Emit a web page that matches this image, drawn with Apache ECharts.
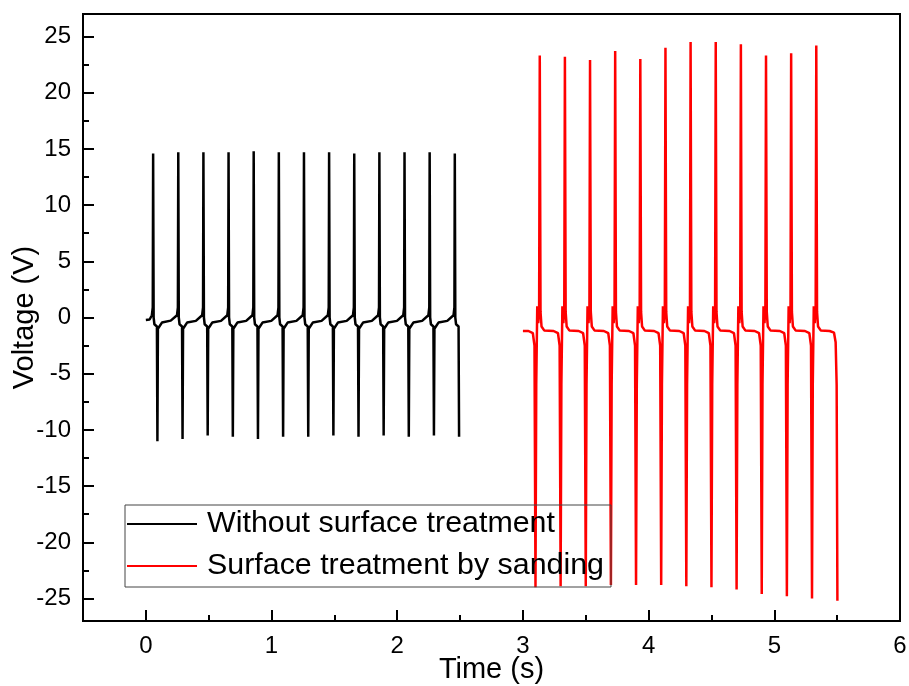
<!DOCTYPE html>
<html>
<head>
<meta charset="utf-8">
<script src="https://cdn.jsdelivr.net/npm/echarts@6.0.0/dist/echarts.min.js"></script>
<style>html,body{margin:0;padding:0;background:#fff;}#chart{width:909px;height:686px;}</style>
</head>
<body>
<div id="chart"></div>
<script>
const seriesNames = ['Without surface treatment', 'Surface treatment by sanding'];
const xMajorTicks = [0, 1, 2, 3, 4, 5, 6];
const xMinorTicks = [0.5, 1.5, 2.5, 3.5, 4.5, 5.5];
const yMajorTicks = [-25, -20, -15, -10, -5, 0, 5, 10, 15, 20, 25];
const yMinorTicks = [-22.5, -17.5, -12.5, -7.5, -2.5, 2.5, 7.5, 12.5, 17.5, 22.5];

// [time (s), voltage (V)]
const blackData = [
[0.000,-0.22],[0.030,-0.18],
[0.048,0.2],[0.055,0.9],[0.058,14.6],[0.062,0.0],[0.068,-0.6],[0.088,-0.8],[0.092,-11.0],[0.096,-1.0],[0.128,-0.45],[0.198,-0.28],
[0.248,0.2],[0.255,0.9],[0.258,14.7],[0.262,0.0],[0.268,-0.6],[0.288,-0.8],[0.292,-10.8],[0.296,-1.0],[0.328,-0.45],[0.398,-0.3],
[0.448,0.2],[0.455,0.9],[0.458,14.7],[0.462,0.0],[0.468,-0.6],[0.488,-0.8],[0.492,-10.5],[0.496,-1.0],[0.528,-0.45],[0.598,-0.3],
[0.648,0.2],[0.655,0.9],[0.658,14.7],[0.662,0.0],[0.668,-0.6],[0.688,-0.8],[0.692,-10.6],[0.696,-1.0],[0.728,-0.45],[0.798,-0.3],
[0.848,0.2],[0.855,0.9],[0.858,14.8],[0.862,0.0],[0.868,-0.6],[0.888,-0.8],[0.892,-10.8],[0.896,-1.0],[0.928,-0.45],[0.998,-0.3],
[1.048,0.2],[1.055,0.9],[1.058,14.7],[1.062,0.0],[1.068,-0.6],[1.088,-0.8],[1.092,-10.6],[1.096,-1.0],[1.128,-0.45],[1.198,-0.3],
[1.248,0.2],[1.255,0.9],[1.258,14.7],[1.262,0.0],[1.268,-0.6],[1.288,-0.8],[1.292,-10.6],[1.296,-1.0],[1.328,-0.45],[1.398,-0.3],
[1.448,0.2],[1.455,0.9],[1.458,14.7],[1.462,0.0],[1.468,-0.6],[1.488,-0.8],[1.492,-10.5],[1.496,-1.0],[1.528,-0.45],[1.598,-0.3],
[1.648,0.2],[1.655,0.9],[1.658,14.6],[1.662,0.0],[1.668,-0.6],[1.688,-0.8],[1.692,-10.6],[1.696,-1.0],[1.728,-0.45],[1.798,-0.3],
[1.848,0.2],[1.855,0.9],[1.858,14.7],[1.862,0.0],[1.868,-0.6],[1.888,-0.8],[1.892,-10.5],[1.896,-1.0],[1.928,-0.45],[1.998,-0.3],
[2.048,0.2],[2.055,0.9],[2.058,14.7],[2.062,0.0],[2.068,-0.6],[2.088,-0.8],[2.092,-10.6],[2.096,-1.0],[2.128,-0.45],[2.198,-0.3],
[2.248,0.2],[2.255,0.9],[2.258,14.7],[2.262,0.0],[2.268,-0.6],[2.288,-0.8],[2.292,-10.5],[2.296,-1.0],[2.328,-0.45],[2.398,-0.3],
[2.448,0.2],[2.455,0.9],[2.458,14.6],[2.462,0.0],[2.468,-0.6],[2.488,-0.8],[2.492,-10.6]
];

const redData = [
[3.000,-1.2],
[3.044,-1.2],[3.079,-1.4],[3.092,-2.5],[3.100,-24.0],[3.106,-6],[3.114,1.0],[3.122,-0.5],[3.129,1.0],[3.134,23.3],[3.140,0.5],[3.148,-0.8],[3.169,-1.15],
[3.244,-1.2],[3.279,-1.4],[3.292,-2.5],[3.300,-23.9],[3.306,-6],[3.314,1.0],[3.322,-0.5],[3.329,1.0],[3.334,23.2],[3.340,0.5],[3.348,-0.8],[3.369,-1.15],
[3.444,-1.2],[3.479,-1.4],[3.492,-2.5],[3.500,-23.9],[3.506,-6],[3.514,1.0],[3.522,-0.5],[3.529,1.0],[3.534,22.9],[3.540,0.5],[3.548,-0.8],[3.569,-1.15],
[3.644,-1.2],[3.679,-1.4],[3.692,-2.5],[3.700,-23.8],[3.706,-6],[3.714,1.0],[3.722,-0.5],[3.729,1.0],[3.734,23.7],[3.740,0.5],[3.748,-0.8],[3.769,-1.15],
[3.844,-1.2],[3.879,-1.4],[3.892,-2.5],[3.900,-23.8],[3.906,-6],[3.914,1.0],[3.922,-0.5],[3.929,1.0],[3.934,23.0],[3.940,0.5],[3.948,-0.8],[3.969,-1.15],
[4.044,-1.2],[4.079,-1.4],[4.092,-2.5],[4.100,-23.8],[4.106,-6],[4.114,1.0],[4.122,-0.5],[4.129,1.0],[4.134,24.0],[4.140,0.5],[4.148,-0.8],[4.169,-1.15],
[4.244,-1.2],[4.279,-1.4],[4.292,-2.5],[4.300,-23.9],[4.306,-6],[4.314,1.0],[4.322,-0.5],[4.329,1.0],[4.334,24.5],[4.340,0.5],[4.348,-0.8],[4.369,-1.15],
[4.444,-1.2],[4.479,-1.4],[4.492,-2.5],[4.500,-24.0],[4.506,-6],[4.514,1.0],[4.522,-0.5],[4.529,1.0],[4.534,24.5],[4.540,0.5],[4.548,-0.8],[4.569,-1.15],
[4.644,-1.2],[4.679,-1.4],[4.692,-2.5],[4.700,-24.2],[4.706,-6],[4.714,1.0],[4.722,-0.5],[4.729,1.0],[4.734,24.3],[4.740,0.5],[4.748,-0.8],[4.769,-1.15],
[4.844,-1.2],[4.879,-1.4],[4.892,-2.5],[4.900,-24.6],[4.906,-6],[4.914,1.0],[4.922,-0.5],[4.929,1.0],[4.934,23.3],[4.940,0.5],[4.948,-0.8],[4.969,-1.15],
[5.044,-1.2],[5.079,-1.4],[5.092,-2.5],[5.100,-24.8],[5.106,-6],[5.114,1.0],[5.122,-0.5],[5.129,1.0],[5.134,23.5],[5.140,0.5],[5.148,-0.8],[5.169,-1.15],
[5.244,-1.2],[5.279,-1.4],[5.292,-2.5],[5.300,-25.0],[5.306,-6],[5.314,1.0],[5.322,-0.5],[5.329,1.0],[5.334,24.2],[5.340,0.5],[5.348,-0.8],[5.369,-1.15],
[5.440,-1.2],[5.475,-1.35],[5.488,-2.2],[5.496,-6],[5.502,-25.2]
];

const FONT = '"Liberation Sans", Arial, sans-serif';
const chart = echarts.init(document.getElementById('chart'), null, {renderer: 'canvas'});
const axisLineStyle = {color: '#000', width: 2};

chart.setOption({
  animation: false,
  backgroundColor: '#fff',
  grid: {left: 83, right: 9, top: 14, bottom: 65, show: true, borderColor: '#000', borderWidth: 2,
         containLabel: false, outerBoundsMode: 'none'},
  legend: {
    orient: 'vertical', left: 125, top: 505,
    itemWidth: 70, itemHeight: 2, itemGap: 10, icon: 'rect',
    borderColor: '#444', borderWidth: 1, padding: [3, 7, 5, 2],
    textStyle: {fontSize: 30.4, fontFamily: FONT, color: '#000', lineHeight: 32, padding: [0, 0, 0, 5]},
    data: seriesNames
  },
  xAxis: [
    {
      type: 'value', min: -0.5, max: 6, position: 'bottom',
      axisLine: {show: true, onZero: false, lineStyle: axisLineStyle},
      axisTick: {show: true, inside: true, length: 11, lineStyle: axisLineStyle, customValues: xMajorTicks},
      axisLabel: {customValues: xMajorTicks, color: '#000', fontSize: 24, fontFamily: FONT, margin: 13},
      splitLine: {show: false},
      name: 'Time (s)', nameLocation: 'middle', nameGap: 34, nameMoveOverlap: false,
      nameTextStyle: {fontSize: 29, fontFamily: FONT, color: '#000'}
    },
    {
      type: 'value', min: -0.5, max: 6, position: 'bottom',
      axisLine: {show: false, onZero: false},
      axisTick: {show: true, inside: true, length: 6, lineStyle: axisLineStyle, customValues: xMinorTicks},
      axisLabel: {show: false},
      splitLine: {show: false}
    }
  ],
  yAxis: [
    {
      type: 'value', min: -27, max: 27, position: 'left',
      axisLine: {show: true, onZero: false, lineStyle: axisLineStyle},
      axisTick: {show: true, inside: true, length: 11, lineStyle: axisLineStyle, customValues: yMajorTicks},
      axisLabel: {customValues: yMajorTicks, color: '#000', fontSize: 24, fontFamily: FONT, margin: 12},
      splitLine: {show: false},
      name: 'Voltage (V)', nameLocation: 'middle', nameGap: 44, nameMoveOverlap: false,
      nameTextStyle: {fontSize: 29, fontFamily: FONT, color: '#000'}
    },
    {
      type: 'value', min: -27, max: 27, position: 'left',
      axisLine: {show: false, onZero: false},
      axisTick: {show: true, inside: true, length: 6, lineStyle: axisLineStyle, customValues: yMinorTicks},
      axisLabel: {show: false},
      splitLine: {show: false}
    }
  ],
  series: [
    {
      name: seriesNames[0], type: 'line', data: blackData, xAxisIndex: 0, yAxisIndex: 0,
      symbol: 'none', showSymbol: false, color: '#000',
      lineStyle: {color: '#000', width: 2.5}, itemStyle: {color: '#000'}
    },
    {
      name: seriesNames[1], type: 'line', data: redData, xAxisIndex: 0, yAxisIndex: 0,
      symbol: 'none', showSymbol: false, color: '#ff0000',
      lineStyle: {color: '#ff0000', width: 2.5}, itemStyle: {color: '#ff0000'}
    }
  ]
});
</script>
</body>
</html>
